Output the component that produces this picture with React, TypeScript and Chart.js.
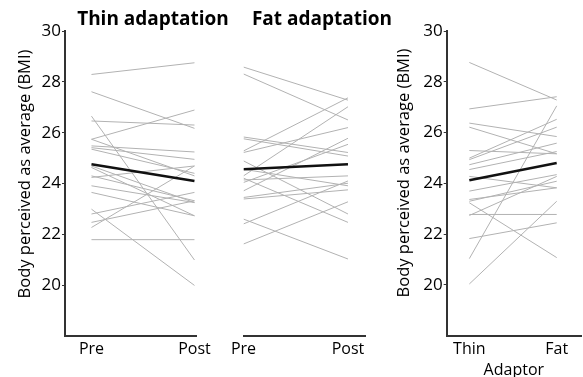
import React, { useEffect, useRef } from 'react';
import { Chart, registerables } from 'chart.js';

Chart.register(...registerables);

const FONT = "'Open Sans', 'Noto Sans', sans-serif";

// Thin adaptation (Pre -> Post)
const thinPre = [28.29, 27.61, 26.65, 26.46, 25.74, 25.74, 25.48, 25.41, 25.35, 24.69, 24.63, 24.30, 24.24, 23.91, 23.65, 22.99, 22.80, 22.47, 22.27, 21.79];
const thinPost = [28.75, 26.17, 20.99, 26.30, 26.89, 24.30, 25.24, 24.95, 24.40, 23.25, 22.73, 23.32, 24.69, 23.25, 22.73, 19.99, 23.65, 23.32, 24.69, 21.79];
const thinMean = [24.76, 24.10];

// Fat adaptation (Pre -> Post)
const fatPre = [28.58, 28.31, 25.83, 25.76, 25.28, 25.22, 24.89, 24.56, 24.30, 24.21, 24.14, 24.04, 23.71, 23.45, 23.39, 22.60, 22.41, 21.62];
const fatPost = [27.28, 26.50, 25.22, 25.08, 27.37, 26.20, 22.80, 23.91, 27.02, 22.47, 24.30, 25.54, 25.78, 24.01, 23.75, 21.03, 24.10, 23.28];
const fatMean = [24.56, 24.76];

// Post-adaptation by adaptor (Thin -> Fat)
const adaptorThin = [28.76, 26.93, 26.37, 26.21, 25.29, 24.99, 24.93, 24.73, 24.54, 24.27, 23.69, 23.36, 23.29, 23.23, 22.77, 22.73, 21.82, 21.03, 20.03];
const adaptorFat = [27.28, 27.41, 25.84, 25.16, 25.16, 26.52, 26.21, 25.58, 25.25, 23.82, 24.34, 23.82, 24.08, 21.07, 22.77, 24.27, 22.44, 27.05, 23.29];
const adaptorMean = [24.12, 24.80];

const yTicks = [20, 22, 24, 26, 28, 30];
const prePostLabels = ['Pre', 'Post'];
const adaptorLabels = ['Thin', 'Fat'];
const yTitle = 'Body perceived as average (BMI)';

function buildDatasets(a: number[], b: number[], mean: number[]) {
  const ds: any[] = [
    {
      data: [{ x: 0, y: mean[0] }, { x: 1, y: mean[1] }],
      borderColor: '#111111',
      borderWidth: 2.5,
      pointRadius: 0,
    },
  ];
  a.forEach((v, i) => {
    ds.push({
      data: [{ x: 0, y: v }, { x: 1, y: b[i] }],
      borderColor: '#b2b2b2',
      borderWidth: 1,
      pointRadius: 0,
    });
  });
  return ds;
}

interface PanelProps {
  left: number;
  width: number;
  height: number;
  pre: number[];
  post: number[];
  mean: number[];
  labels: string[];
  xMin: number;
  xMax: number;
  padding: { left: number; right: number; top: number; bottom: number };
  showY: boolean;
  yWidth: number;
  xHeight: number;
  xTitle?: string;
}

function Panel(p: PanelProps) {
  const ref = useRef<HTMLCanvasElement>(null);
  useEffect(() => {
    if (!ref.current) return;
    const chart = new Chart(ref.current, {
      type: 'line',
      data: { datasets: buildDatasets(p.pre, p.post, p.mean) },
      options: {
        responsive: false,
        animation: false,
        devicePixelRatio: 1,
        plugins: { legend: { display: false }, tooltip: { enabled: false } },
        layout: { padding: p.padding },
        scales: {
          x: {
            type: 'linear',
            min: p.xMin,
            max: p.xMax,
            afterBuildTicks: (s: any) => {
              s.ticks = [{ value: 0 }, { value: 1 }];
            },
            afterFit: (s: any) => {
              s.height = p.xHeight;
            },
            ticks: {
              callback: (_v: any, i: number) => p.labels[i],
              font: { family: FONT, size: 16 },
              color: '#000',
              padding: 4,
              maxRotation: 0,
              autoSkip: false,
            },
            grid: { display: false, drawTicks: false },
            border: { display: true, color: '#333', width: 2 },
            title: p.xTitle
              ? {
                  display: true,
                  text: p.xTitle,
                  font: { family: FONT, size: 16 },
                  color: '#000',
                  padding: { top: 0, bottom: 0 },
                }
              : { display: false },
          },
          y: {
            type: 'linear',
            display: p.showY,
            min: 18,
            max: 30,
            afterBuildTicks: (s: any) => {
              s.ticks = yTicks.map((v) => ({ value: v }));
            },
            afterFit: (s: any) => {
              s.width = p.yWidth;
            },
            ticks: {
              font: { family: FONT, size: 17 },
              color: '#000',
              padding: 1,
            },
            grid: {
              display: true,
              drawOnChartArea: false,
              drawTicks: true,
              tickLength: 3,
              color: '#333',
            },
            border: { display: true, color: '#333', width: 2 },
            title: { display: false },
          },
        },
      } as any,
    });
    return () => chart.destroy();
  }, []);
  return (
    <canvas
      ref={ref}
      width={p.width}
      height={p.height}
      style={{ position: 'absolute', left: p.left, top: 0, width: p.width, height: p.height }}
    />
  );
}

const titleStyle: React.CSSProperties = {
  position: 'absolute',
  top: 6.5,
  width: 200,
  textAlign: 'center',
  fontFamily: FONT,
  fontWeight: 700,
  fontSize: 19,
  lineHeight: '22px',
  color: '#000',
  whiteSpace: 'nowrap',
};

function YTitle({ cx, cy }: { cx: number; cy: number }) {
  return (
    <div
      style={{
        position: 'absolute',
        left: cx - 150,
        top: cy - 11,
        width: 300,
        height: 22,
        lineHeight: '22px',
        textAlign: 'center',
        fontFamily: FONT,
        fontSize: 16.5,
        color: '#000',
        whiteSpace: 'nowrap',
        transform: 'rotate(-90deg)',
        transformOrigin: '50% 50%',
      }}
    >
      {yTitle}
    </div>
  );
}

export default function App() {
  return (
    <div
      style={{
        position: 'fixed',
        left: 0,
        top: 0,
        width: 583,
        height: 377,
        background: '#fff',
        overflow: 'hidden',
      }}
    >
      <Panel
        left={0}
        width={215}
        height={377}
        pre={thinPre}
        post={thinPost}
        mean={thinMean}
        labels={prePostLabels}
        xMin={-0.257}
        xMax={1.019}
        padding={{ left: 0, right: 16, top: 31, bottom: 0 }}
        showY={true}
        yWidth={65}
        xHeight={41}
      />
      <Panel
        left={220}
        width={160}
        height={377}
        pre={fatPre}
        post={fatPost}
        mean={fatMean}
        labels={prePostLabels}
        xMin={0}
        xMax={1.163}
        padding={{ left: 23.5, right: 15, top: 31, bottom: 0 }}
        showY={false}
        yWidth={0}
        xHeight={41}
      />
      <Panel
        left={380}
        width={203}
        height={380}
        pre={adaptorThin}
        post={adaptorFat}
        mean={adaptorMean}
        labels={adaptorLabels}
        xMin={-0.259}
        xMax={1.278}
        padding={{ left: 0, right: 2, top: 31, bottom: 0 }}
        showY={true}
        yWidth={66.7}
        xHeight={44.5}
        xTitle="Adaptor"
      />
      <YTitle cx={24} cy={174} />
      <YTitle cx={403} cy={173} />
      <div style={{ ...titleStyle, left: 53 }}>Thin adaptation</div>
      <div style={{ ...titleStyle, left: 222 }}>Fat adaptation</div>
    </div>
  );
}
